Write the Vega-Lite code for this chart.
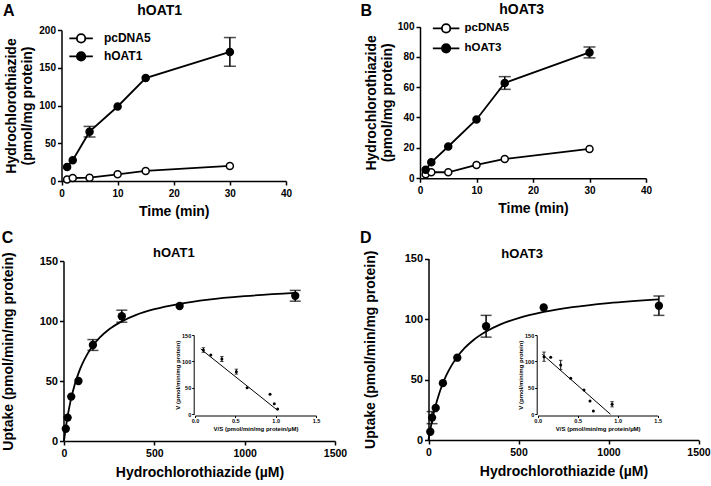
{
  "$schema": "https://vega.github.io/schema/vega-lite/v6.json",
  "width": 711,
  "height": 486,
  "autosize": {"type": "none"},
  "padding": 0,
  "background": "white",
  "config": {
    "font": "Liberation Sans",
    "view": {"stroke": null},
    "axis": {"grid": false, "domainColor": "black", "tickColor": "black", "labelColor": "black", "titleColor": "black", "labelFontWeight": "bold", "titleFontWeight": "bold", "labelFont": "Liberation Sans", "titleFont": "Liberation Sans", "domainWidth": 1.5, "tickWidth": 1.5, "labelFlush": false, "labelOverlap": false},
    "text": {"font": "Liberation Sans", "fontWeight": "bold", "color": "black"}
  },
  "datasets": {
    "timeA": [
      {"t": 1, "v": 2, "e": 0, "s": "pcDNA5"}, {"t": 2, "v": 4, "e": 0, "s": "pcDNA5"}, {"t": 5, "v": 4.4, "e": 0, "s": "pcDNA5"}, {"t": 10, "v": 8.9, "e": 0, "s": "pcDNA5"}, {"t": 15, "v": 13.3, "e": 0, "s": "pcDNA5"}, {"t": 30, "v": 20, "e": 0, "s": "pcDNA5"},
      {"t": 1, "v": 18.7, "e": 0, "s": "hOAT1"}, {"t": 2, "v": 27.6, "e": 0, "s": "hOAT1"}, {"t": 5, "v": 65.3, "e": 7, "s": "hOAT1"}, {"t": 10, "v": 98.7, "e": 0, "s": "hOAT1"}, {"t": 15, "v": 136.4, "e": 0, "s": "hOAT1"}, {"t": 30, "v": 171, "e": 19, "s": "hOAT1"}
    ],
    "timeB": [
      {"t": 1, "v": 2.5, "e": 0, "s": "pcDNA5"}, {"t": 2, "v": 3.8, "e": 0, "s": "pcDNA5"}, {"t": 5, "v": 3.8, "e": 0, "s": "pcDNA5"}, {"t": 10, "v": 8.6, "e": 0, "s": "pcDNA5"}, {"t": 15, "v": 12.6, "e": 0, "s": "pcDNA5"}, {"t": 30, "v": 19.2, "e": 0, "s": "pcDNA5"},
      {"t": 1, "v": 5.5, "e": 0, "s": "hOAT3"}, {"t": 2, "v": 10.4, "e": 0, "s": "hOAT3"}, {"t": 5, "v": 20.8, "e": 0, "s": "hOAT3"}, {"t": 10, "v": 38.7, "e": 0, "s": "hOAT3"}, {"t": 15, "v": 62.8, "e": 4.2, "s": "hOAT3"}, {"t": 30, "v": 83, "e": 3.6, "s": "hOAT3"}
    ],
    "kinC": [
      {"c": 10, "v": 10.2, "e": 0}, {"c": 20, "v": 19.5, "e": 0}, {"c": 40, "v": 37, "e": 0}, {"c": 80, "v": 50, "e": 0}, {"c": 160, "v": 80, "e": 4.5}, {"c": 320, "v": 104, "e": 5}, {"c": 640, "v": 112.5, "e": 0}, {"c": 1280, "v": 121, "e": 4.5}
    ],
    "kinD": [
      {"c": 10, "v": 6.8, "e": 0}, {"c": 20, "v": 18.5, "e": 5}, {"c": 40, "v": 26.5, "e": 0}, {"c": 80, "v": 47, "e": 0}, {"c": 160, "v": 68, "e": 0}, {"c": 320, "v": 94, "e": 9}, {"c": 640, "v": 109.5, "e": 0}, {"c": 1280, "v": 111, "e": 8}
    ],
    "curveC": [
      {"c": 0, "v": 0}, {"c": 5, "v": 5.8}, {"c": 10, "v": 11.2}, {"c": 20, "v": 20.6}, {"c": 30, "v": 28.7}, {"c": 40, "v": 35.7}, {"c": 60, "v": 47.3}, {"c": 80, "v": 56.4}, {"c": 100, "v": 63.8}, {"c": 130, "v": 72.6}, {"c": 160, "v": 79.4}, {"c": 200, "v": 86.5}, {"c": 250, "v": 93.1}, {"c": 320, "v": 99.7}, {"c": 400, "v": 105.1}, {"c": 500, "v": 109.8}, {"c": 640, "v": 114.3}, {"c": 800, "v": 117.8}, {"c": 1000, "v": 120.7}, {"c": 1280, "v": 123.4}
    ],
    "curveD": [
      {"c": 0, "v": 0}, {"c": 5, "v": 4.45}, {"c": 10, "v": 8.6}, {"c": 20, "v": 16.1}, {"c": 30, "v": 22.8}, {"c": 40, "v": 28.7}, {"c": 60, "v": 38.7}, {"c": 80, "v": 46.9}, {"c": 100, "v": 53.75}, {"c": 130, "v": 62.1}, {"c": 160, "v": 68.8}, {"c": 200, "v": 75.9}, {"c": 250, "v": 82.7}, {"c": 320, "v": 89.7}, {"c": 400, "v": 95.6}, {"c": 500, "v": 100.8}, {"c": 640, "v": 105.8}, {"c": 800, "v": 109.8}, {"c": 1000, "v": 113.2}, {"c": 1280, "v": 116.3}
    ],
    "ehC": [
      {"r": 0.104, "v": 121.6, "e": 4.4}, {"r": 0.196, "v": 112.2, "e": 0}, {"r": 0.333, "v": 104.6, "e": 4.7}, {"r": 0.5125, "v": 80.7, "e": 4.7}, {"r": 0.646, "v": 50.4, "e": 0}, {"r": 0.93, "v": 38, "e": 0}, {"r": 0.983, "v": 20, "e": 0}, {"r": 1.024, "v": 10, "e": 0}
    ],
    "ehD": [
      {"r": 0.079, "v": 109, "e": 8.8}, {"r": 0.1625, "v": 107.8, "e": 0}, {"r": 0.2875, "v": 93.3, "e": 8.8}, {"r": 0.4125, "v": 68, "e": 0}, {"r": 0.579, "v": 46, "e": 0}, {"r": 0.654, "v": 25.2, "e": 0}, {"r": 0.696, "v": 6.3, "e": 0}, {"r": 0.93, "v": 19, "e": 5}
    ],
    "ehLineC": [{"r": 0.071, "v": 123.5}, {"r": 1.02, "v": 8}],
    "ehLineD": [{"r": 0.058, "v": 113.4}, {"r": 0.91, "v": 0}]
  },
  "layer": [
    {
      "data": {"name": "timeA"},
      "layer": [
        {
          "mark": {"type": "line", "color": "black", "strokeWidth": 1.8},
          "encoding": {
            "x": {"field": "t", "type": "quantitative", "title": "Time (min)", "scale": {"domain": [0, 40], "range": [61.5, 286], "nice": false, "zero": false},
              "axis": {"orient": "bottom", "offset": -305, "values": [0, 10, 20, 30, 40], "tickSize": 4, "labelPadding": 3, "labelFontSize": 10, "titleFontSize": 14, "titlePadding": 6}},
            "y": {"field": "v", "type": "quantitative", "title": ["Hydrochlorothiazide", "(pmol/mg protein)"], "scale": {"domain": [0, 200], "range": [181, 30], "nice": false},
              "axis": {"orient": "left", "offset": -61.5, "values": [0, 50, 100, 150, 200], "tickSize": 4, "labelPadding": 2, "labelFontSize": 10, "titleFontSize": 14, "titleLineHeight": 16, "titlePadding": 4}},
            "detail": {"field": "s"}
          }
        },
        {
          "transform": [{"filter": "datum.e > 0"}],
          "mark": {"type": "errorbar", "ticks": true, "size": 12, "thickness": 1.5, "color": "black"},
          "encoding": {"x": {"field": "t", "type": "quantitative", "title": "Time (min)"}, "y": {"field": "v", "type": "quantitative", "title": ["Hydrochlorothiazide", "(pmol/mg protein)"]}, "yError": {"field": "e"}}
        },
        {
          "mark": {"type": "point", "filled": true, "size": 49, "stroke": "black", "strokeWidth": 1.5, "opacity": 1},
          "encoding": {
            "x": {"field": "t", "type": "quantitative", "title": "Time (min)"},
            "y": {"field": "v", "type": "quantitative", "title": ["Hydrochlorothiazide", "(pmol/mg protein)"]},
            "fill": {"field": "s", "type": "nominal", "scale": {"domain": ["pcDNA5", "hOAT1"], "range": ["white", "black"]},
              "legend": {"title": null, "orient": "none", "legendX": 71.6, "legendY": 28.9, "padding": 0, "symbolType": "M-1.4,0L-0.5,0M0.5,0L1.4,0M-0.5,0A0.5,0.5,0,1,1,0.5,0A0.5,0.5,0,1,1,-0.5,0Z", "symbolSize": 282, "symbolStrokeColor": "black", "symbolStrokeWidth": 1.8, "labelFontSize": 12, "labelFontWeight": "bold", "labelFont": "Liberation Sans", "labelColor": "black", "labelOffset": 13.3, "rowPadding": -1}}
          }
        },
        {
          "data": {"values": [{}]},
          "mark": {"type": "text", "text": "hOAT1", "fontSize": 14, "align": "center", "baseline": "middle"},
          "encoding": {"x": {"datum": 17.5, "type": "quantitative"}, "y": {"datum": 225.8, "type": "quantitative"}}
        },
        {
          "data": {"values": [{}]},
          "mark": {"type": "text", "text": "A", "fontSize": 16, "align": "center", "baseline": "middle"},
          "encoding": {"x": {"datum": -9.4, "type": "quantitative"}, "y": {"datum": 225.4, "type": "quantitative"}}
        }
      ]
    },
    {
      "data": {"name": "timeB"},
      "layer": [
        {
          "mark": {"type": "line", "color": "black", "strokeWidth": 1.8},
          "encoding": {
            "x": {"field": "t", "type": "quantitative", "title": "Time (min)", "scale": {"domain": [0, 40], "range": [420, 646], "nice": false, "zero": false},
              "axis": {"orient": "bottom", "offset": -307.7, "values": [0, 10, 20, 30, 40], "tickSize": 4, "labelPadding": 3, "labelFontSize": 10, "titleFontSize": 14, "titlePadding": 6}},
            "y": {"field": "v", "type": "quantitative", "title": ["Hydrochlorothiazide", "(pmol/mg protein)"], "scale": {"domain": [0, 100], "range": [178, 26.7], "nice": false},
              "axis": {"orient": "left", "offset": -420, "values": [0, 20, 40, 60, 80, 100], "tickSize": 4, "labelPadding": 2, "labelFontSize": 10, "titleFontSize": 14, "titleLineHeight": 16, "titlePadding": 3}},
            "detail": {"field": "s"}
          }
        },
        {
          "transform": [{"filter": "datum.e > 0"}],
          "mark": {"type": "errorbar", "ticks": true, "size": 12, "thickness": 1.5, "color": "black"},
          "encoding": {"x": {"field": "t", "type": "quantitative", "title": "Time (min)"}, "y": {"field": "v", "type": "quantitative", "title": ["Hydrochlorothiazide", "(pmol/mg protein)"]}, "yError": {"field": "e"}}
        },
        {
          "mark": {"type": "point", "filled": true, "size": 49, "stroke": "black", "strokeWidth": 1.5, "opacity": 1},
          "encoding": {
            "x": {"field": "t", "type": "quantitative", "title": "Time (min)"},
            "y": {"field": "v", "type": "quantitative", "title": ["Hydrochlorothiazide", "(pmol/mg protein)"]},
            "fill": {"field": "s", "type": "nominal", "scale": {"domain": ["pcDNA5", "hOAT3"], "range": ["white", "black"]},
              "legend": {"title": null, "orient": "none", "legendX": 436.6, "legendY": 18.9, "padding": 0, "symbolType": "M-1.58,0L-0.5,0M0.5,0L1.58,0M-0.5,0A0.5,0.5,0,1,1,0.5,0A0.5,0.5,0,1,1,-0.5,0Z", "symbolSize": 282, "symbolStrokeColor": "black", "symbolStrokeWidth": 1.8, "labelFontSize": 11.5, "labelFontWeight": "bold", "labelFont": "Liberation Sans", "labelColor": "black", "labelOffset": 8.9, "rowPadding": 1.9}}
          }
        },
        {
          "data": {"values": [{}]},
          "mark": {"type": "text", "text": "hOAT3", "fontSize": 14, "align": "center", "baseline": "middle"},
          "encoding": {"x": {"datum": 18.0, "type": "quantitative"}, "y": {"datum": 111.0, "type": "quantitative"}}
        },
        {
          "data": {"values": [{}]},
          "mark": {"type": "text", "text": "B", "fontSize": 16, "align": "center", "baseline": "middle"},
          "encoding": {"x": {"datum": -9.5, "type": "quantitative"}, "y": {"datum": 110.5, "type": "quantitative"}}
        }
      ]
    },
    {
      "layer": [
        {
          "data": {"name": "curveC"},
          "mark": {"type": "line", "color": "black", "strokeWidth": 1.8, "interpolate": "monotone"},
          "encoding": {
            "x": {"field": "c", "type": "quantitative", "title": "Hydrochlorothiazide (µM)", "scale": {"domain": [0, 1500], "range": [64, 335], "nice": false, "zero": false},
              "axis": {"orient": "bottom", "offset": -45, "values": [0, 500, 1000, 1500], "format": "d", "tickSize": 4, "labelPadding": 3, "labelFontSize": 10.5, "titleFontSize": 14, "titlePadding": 7}},
            "y": {"field": "v", "type": "quantitative", "title": "Uptake (pmol/min/mg protein)", "scale": {"domain": [0, 150], "range": [441, 261], "nice": false},
              "axis": {"orient": "left", "offset": -63.5, "values": [0, 50, 100, 150], "tickSize": 4, "labelPadding": 2, "labelFontSize": 11, "titleFontSize": 14, "titlePadding": 24}}
          }
        },
        {
          "data": {"name": "kinC"},
          "transform": [{"filter": "datum.e > 0"}],
          "mark": {"type": "errorbar", "ticks": true, "size": 11, "thickness": 1.5, "color": "black"},
          "encoding": {"x": {"field": "c", "type": "quantitative", "title": "Hydrochlorothiazide (µM)"}, "y": {"field": "v", "type": "quantitative", "title": "Uptake (pmol/min/mg protein)"}, "yError": {"field": "e"}}
        },
        {
          "data": {"name": "kinC"},
          "mark": {"type": "point", "filled": true, "size": 69, "color": "black", "opacity": 1},
          "encoding": {"x": {"field": "c", "type": "quantitative", "title": "Hydrochlorothiazide (µM)"}, "y": {"field": "v", "type": "quantitative", "title": "Uptake (pmol/min/mg protein)"}}
        },
        {
          "data": {"values": [{}]},
          "mark": {"type": "text", "text": "hOAT1", "fontSize": 13, "align": "center", "baseline": "middle"},
          "encoding": {"x": {"datum": 607.7, "type": "quantitative"}, "y": {"datum": 156.8, "type": "quantitative"}}
        },
        {
          "data": {"values": [{}]},
          "mark": {"type": "text", "text": "C", "fontSize": 16, "align": "center", "baseline": "middle"},
          "encoding": {"x": {"datum": -312.7, "type": "quantitative"}, "y": {"datum": 169.3, "type": "quantitative"}}
        }
      ]
    },
    {
      "layer": [
        {
          "data": {"name": "ehLineC"},
          "mark": {"type": "line", "color": "black", "strokeWidth": 1},
          "encoding": {
            "x": {"field": "r", "type": "quantitative", "title": "V/S (pmol/min/mg protein/µM)", "scale": {"domain": [0, 1.5], "range": [195, 316], "nice": false, "zero": false},
              "axis": {"orient": "bottom", "offset": -70.5, "values": [0, 0.5, 1, 1.5], "format": ".1f", "tickSize": 2, "tickWidth": 1, "domainWidth": 1, "labelPadding": 1, "labelFontSize": 5.5, "titleFontSize": 6, "titlePadding": 1.5}},
            "y": {"field": "v", "type": "quantitative", "title": "V (pmol/min/mg protein)", "scale": {"domain": [0, 150], "range": [414.3, 335], "nice": false},
              "axis": {"orient": "left", "offset": -193.7, "values": [0, 50, 100, 150], "tickSize": 2, "tickWidth": 1, "domainWidth": 1, "labelPadding": 1, "labelFontSize": 5.5, "titleFontSize": 6, "titlePadding": 1}}
          }
        },
        {
          "data": {"name": "ehC"},
          "transform": [{"filter": "datum.e > 0"}],
          "mark": {"type": "errorbar", "ticks": true, "size": 3.5, "thickness": 1, "color": "black"},
          "encoding": {"x": {"field": "r", "type": "quantitative", "title": "V/S (pmol/min/mg protein/µM)"}, "y": {"field": "v", "type": "quantitative", "title": "V (pmol/min/mg protein)"}, "yError": {"field": "e"}}
        },
        {
          "data": {"name": "ehC"},
          "mark": {"type": "point", "filled": true, "size": 9, "color": "black", "opacity": 1},
          "encoding": {"x": {"field": "r", "type": "quantitative", "title": "V/S (pmol/min/mg protein/µM)"}, "y": {"field": "v", "type": "quantitative", "title": "V (pmol/min/mg protein)"}}
        }
      ]
    },
    {
      "layer": [
        {
          "data": {"name": "curveD"},
          "mark": {"type": "line", "color": "black", "strokeWidth": 1.8, "interpolate": "monotone"},
          "encoding": {
            "x": {"field": "c", "type": "quantitative", "title": "Hydrochlorothiazide (µM)", "scale": {"domain": [0, 1500], "range": [428.5, 698.5], "nice": false, "zero": false},
              "axis": {"orient": "bottom", "offset": -46, "values": [0, 500, 1000, 1500], "format": "d", "tickSize": 4, "labelPadding": 3, "labelFontSize": 10.5, "titleFontSize": 14, "titlePadding": 7}},
            "y": {"field": "v", "type": "quantitative", "title": "Uptake (pmol/min/mg protein)", "scale": {"domain": [0, 150], "range": [440, 258.5], "nice": false},
              "axis": {"orient": "left", "offset": -428.5, "values": [0, 50, 100, 150], "tickSize": 4, "labelPadding": 2, "labelFontSize": 11, "titleFontSize": 14, "titlePadding": 27}}
          }
        },
        {
          "data": {"name": "kinD"},
          "transform": [{"filter": "datum.e > 0"}],
          "mark": {"type": "errorbar", "ticks": true, "size": 11, "thickness": 1.5, "color": "black"},
          "encoding": {"x": {"field": "c", "type": "quantitative", "title": "Hydrochlorothiazide (µM)"}, "y": {"field": "v", "type": "quantitative", "title": "Uptake (pmol/min/mg protein)"}, "yError": {"field": "e"}}
        },
        {
          "data": {"name": "kinD"},
          "mark": {"type": "point", "filled": true, "size": 69, "color": "black", "opacity": 1},
          "encoding": {"x": {"field": "c", "type": "quantitative", "title": "Hydrochlorothiazide (µM)"}, "y": {"field": "v", "type": "quantitative", "title": "Uptake (pmol/min/mg protein)"}}
        },
        {
          "data": {"values": [{}]},
          "mark": {"type": "text", "text": "hOAT3", "fontSize": 13, "align": "center", "baseline": "middle"},
          "encoding": {"x": {"datum": 520, "type": "quantitative"}, "y": {"datum": 154.1, "type": "quantitative"}}
        },
        {
          "data": {"values": [{}]},
          "mark": {"type": "text", "text": "D", "fontSize": 16, "align": "center", "baseline": "middle"},
          "encoding": {"x": {"datum": -348.6, "type": "quantitative"}, "y": {"datum": 166.7, "type": "quantitative"}}
        }
      ]
    },
    {
      "layer": [
        {
          "data": {"name": "ehLineD"},
          "mark": {"type": "line", "color": "black", "strokeWidth": 1},
          "encoding": {
            "x": {"field": "r", "type": "quantitative", "title": "V/S (pmol/min/mg protein/µM)", "scale": {"domain": [0, 1.5], "range": [537.7, 657.7], "nice": false, "zero": false},
              "axis": {"orient": "bottom", "offset": -70.5, "values": [0, 0.5, 1, 1.5], "format": ".1f", "tickSize": 2, "tickWidth": 1, "domainWidth": 1, "labelPadding": 1, "labelFontSize": 5.5, "titleFontSize": 6, "titlePadding": 1.5}},
            "y": {"field": "v", "type": "quantitative", "title": "V (pmol/min/mg protein)", "scale": {"domain": [0, 150], "range": [414.3, 335], "nice": false},
              "axis": {"orient": "left", "offset": -536.7, "values": [0, 50, 100, 150], "tickSize": 2, "tickWidth": 1, "domainWidth": 1, "labelPadding": 1, "labelFontSize": 5.5, "titleFontSize": 6, "titlePadding": 1}}
          }
        },
        {
          "data": {"name": "ehD"},
          "transform": [{"filter": "datum.e > 0"}],
          "mark": {"type": "errorbar", "ticks": true, "size": 3.5, "thickness": 1, "color": "black"},
          "encoding": {"x": {"field": "r", "type": "quantitative", "title": "V/S (pmol/min/mg protein/µM)"}, "y": {"field": "v", "type": "quantitative", "title": "V (pmol/min/mg protein)"}, "yError": {"field": "e"}}
        },
        {
          "data": {"name": "ehD"},
          "mark": {"type": "point", "filled": true, "size": 9, "color": "black", "opacity": 1},
          "encoding": {"x": {"field": "r", "type": "quantitative", "title": "V/S (pmol/min/mg protein/µM)"}, "y": {"field": "v", "type": "quantitative", "title": "V (pmol/min/mg protein)"}}
        }
      ]
    }
  ],
  "resolve": {
    "scale": {"x": "independent", "y": "independent", "fill": "independent"},
    "axis": {"x": "independent", "y": "independent"},
    "legend": {"fill": "independent"}
  }
}
